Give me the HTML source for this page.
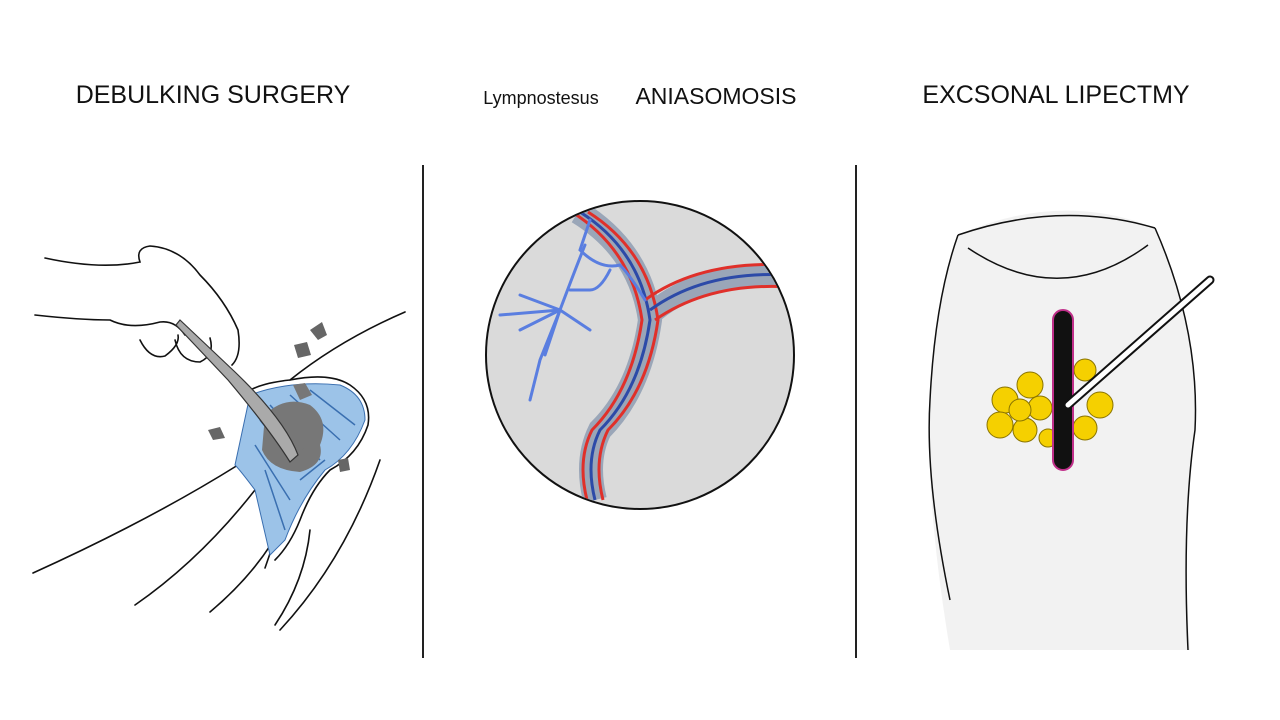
<!DOCTYPE html>
<html><head><meta charset="utf-8"><style>
html,body{margin:0;padding:0;background:#fff;}
svg{display:block}
text{font-family:"Liberation Sans",sans-serif;fill:#111;}
</style></head><body>
<svg width="1280" height="720" viewBox="0 0 1280 720" xmlns="http://www.w3.org/2000/svg">
<rect width="1280" height="720" fill="#fff"/>
<text x="213" y="103" font-size="25" text-anchor="middle">DEBULKING SURGERY</text>
<text x="541" y="104" font-size="18" text-anchor="middle" fill="#333">Lympnostesus</text>
<text x="716" y="104" font-size="23" text-anchor="middle">ANIASOMOSIS</text>
<text x="1056" y="103" font-size="25" text-anchor="middle">EXCSONAL LIPECTMY</text>
<line x1="423" y1="165" x2="423" y2="658" stroke="#222" stroke-width="2"/>
<line x1="856" y1="165" x2="856" y2="658" stroke="#222" stroke-width="2"/>

<!-- left panel -->
<g fill="none" stroke="#111" stroke-width="1.6" stroke-linecap="round">
<path d="M245 393 Q260 383 290 380 Q330 372 350 385 Q372 400 368 425 Q358 455 330 470 Q312 488 300 520 Q290 545 275 560"/>
<path d="M290 380 Q340 340 405 312"/>
<path d="M265 568 L285 510"/>
<path d="M33 573 Q150 520 238 465"/>
<path d="M135 605 Q200 560 255 490"/>
<path d="M210 612 Q260 570 285 520"/>
<path d="M275 625 Q305 580 310 530"/>
<path d="M280 630 Q345 560 380 460"/>
<path d="M45 258 Q100 270 140 262 Q135 248 150 246 Q180 248 200 275 Q225 300 238 330 Q242 355 232 365"/>
<path d="M35 315 Q80 320 110 320 Q130 330 160 322 Q175 320 185 335"/>
<path d="M140 340 Q150 360 165 356 Q180 345 178 335"/>
<path d="M175 340 Q180 362 200 362 Q215 355 210 338"/>
</g>
<path d="M250 395 Q290 380 340 385 Q365 395 365 420 Q352 455 325 470 Q300 500 285 540 L270 555 Q262 520 255 490 Q240 470 235 465 Z" fill="#9cc3e8" stroke="#3a6fb0" stroke-width="1"/>
<g stroke="#3a6fb0" stroke-width="1.5" fill="none">
<path d="M260 420 L300 470 M270 405 L320 460 M290 395 L340 440 M310 390 L355 425 M255 445 L290 500 M265 470 L285 530 M325 460 L300 480"/>
</g>
<path d="M265 415 Q285 395 310 405 Q330 420 320 445 Q325 465 300 472 Q270 470 262 450 Z" fill="#777"/>
<path d="M293 385 L305 383 L312 395 L300 400 Z" fill="#777"/>
<path d="M297 445 L305 448 L275 465 Z" fill="#777"/>
<path d="M310 330 L322 322 L327 335 L318 340 Z" fill="#666"/>
<path d="M294 345 L307 342 L311 355 L298 358 Z" fill="#666"/>
<path d="M208 430 L220 427 L225 438 L213 440 Z" fill="#666"/>
<path d="M338 460 L348 458 L350 470 L340 472 Z" fill="#666"/>
<path d="M180 320 L235 372 Q285 420 298 455 L290 462 Q270 430 228 380 L176 325 Z" fill="#aaa" stroke="#333" stroke-width="1.2"/>

<!-- middle circle -->
<circle cx="640" cy="355" r="154" fill="#dadada" stroke="#111" stroke-width="2"/>
<clipPath id="c"><circle cx="640" cy="355" r="153"/></clipPath>
<g clip-path="url(#c)" fill="none">
<path d="M578 212 Q640 250 650 320 Q640 390 600 430 Q585 460 595 500" stroke="#9aa6b8" stroke-width="24"/>
<path d="M650 315 Q700 270 790 275" stroke="#9aa6b8" stroke-width="22"/>
<path d="M572 212 Q632 250 642 320 Q632 390 592 430 Q577 460 587 500" stroke="#e0302a" stroke-width="3"/>
<path d="M580 212 Q640 250 650 320 Q640 390 600 430 Q585 460 595 500" stroke="#2c4aa8" stroke-width="3"/>
<path d="M588 212 Q648 250 658 320 Q648 390 608 430 Q593 460 603 500" stroke="#e0302a" stroke-width="3"/>
<path d="M645 300 Q700 260 790 265" stroke="#e0302a" stroke-width="3"/>
<path d="M650 310 Q705 270 790 275" stroke="#2c4aa8" stroke-width="3"/>
<path d="M655 320 Q710 282 790 287" stroke="#e0302a" stroke-width="3"/>
<g stroke="#5a7ee0" stroke-width="3" stroke-linecap="round">
<path d="M590 220 L580 250 Q600 270 620 265 Q630 275 645 300"/>
<path d="M585 245 Q575 270 560 310 L520 330"/>
<path d="M560 310 L540 360 L530 400"/>
<path d="M560 310 L500 315 M560 310 L545 355 M560 310 L590 330 M560 310 L520 295"/>
<path d="M610 270 Q600 290 590 290 L570 290"/>
</g>
</g>

<!-- right panel -->
<path d="M958 235 Q1060 190 1155 228 Q1200 330 1195 430 Q1180 520 1190 650 L950 650 Q925 500 930 400 Q935 300 958 235 Z" fill="#f2f2f2"/>
<g fill="none" stroke="#111" stroke-width="1.5">
<path d="M958 235 Q935 300 930 400 Q925 480 950 600"/>
<path d="M1155 228 Q1200 330 1195 430 Q1182 520 1188 650"/>
<path d="M958 235 Q1060 200 1155 228"/>
<path d="M968 248 Q1060 310 1148 245"/>
</g>
<g fill="#f5d000" stroke="#8a7400" stroke-width="1">
<circle cx="1030" cy="385" r="13"/><circle cx="1005" cy="400" r="13"/><circle cx="1040" cy="408" r="12"/>
<circle cx="1000" cy="425" r="13"/><circle cx="1025" cy="430" r="12"/><circle cx="1020" cy="410" r="11"/>
<circle cx="1085" cy="370" r="11"/><circle cx="1100" cy="405" r="13"/><circle cx="1085" cy="428" r="12"/>
<circle cx="1048" cy="438" r="9"/>
</g>
<rect x="1053" y="310" width="20" height="160" rx="10" fill="#111" stroke="#c0308a" stroke-width="2"/>
<line x1="1068" y1="405" x2="1210" y2="280" stroke="#111" stroke-width="9" stroke-linecap="round"/>
<line x1="1068" y1="405" x2="1210" y2="280" stroke="#fff" stroke-width="5" stroke-linecap="round"/>
</svg>
</body></html>
